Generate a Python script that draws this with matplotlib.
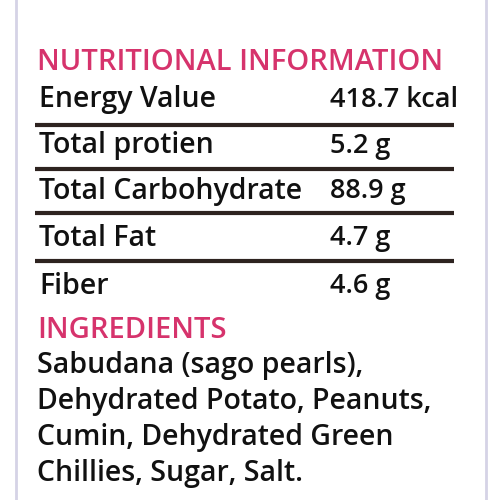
import matplotlib
matplotlib.use("Agg")
import matplotlib.pyplot as plt

nutrients = ["Energy Value", "Total protien", "Total Carbohydrate", "Total Fat", "Fiber"]
amounts = ["418.7 kcal", "5.2 g", "88.9 g", "4.7 g", "4.6 g"]
row_y = [100, 146, 191, 238, 286]
rule_y = [125, 169, 213, 261]
ingredients = ["Sabudana (sago pearls),", "Dehydrated Potato, Peanuts,",
               "Cumin, Dehydrated Green", "Chillies, Sugar, Salt."]
ingr_y = [366, 402, 438, 473]

pink = "#d6336c"
fig = plt.figure(figsize=(5, 5), dpi=100)
ax = fig.add_axes([0, 0, 1, 1])
ax.set_xlim(0, 500)
ax.set_ylim(500, 0)
ax.axis("off")

ax.axvline(16, color="#d5d3e6", lw=2)
ax.axvline(486, color="#d5d3e6", lw=2)

font = dict(family="Open Sans", weight="semibold", va="center")
ax.text(37, 62, "NUTRITIONAL INFORMATION", color=pink, fontsize=21, **font)
for name, amt, y in zip(nutrients, amounts, row_y):
    ax.text(39, y, name, color="#111111", fontsize=20.5, **font)
    ax.text(330, y, amt, color="#111111", fontsize=19.5, **font)
for y in rule_y:
    ax.plot([35, 454], [y, y], color="#2e2320", lw=3, solid_capstyle="butt")
ax.text(37, 331, "INGREDIENTS", color=pink, fontsize=21, **font)
for line, y in zip(ingredients, ingr_y):
    ax.text(37, y, line, color="#111111", fontsize=20.5, **font)

fig.savefig("out.png", dpi=100, facecolor="white")
